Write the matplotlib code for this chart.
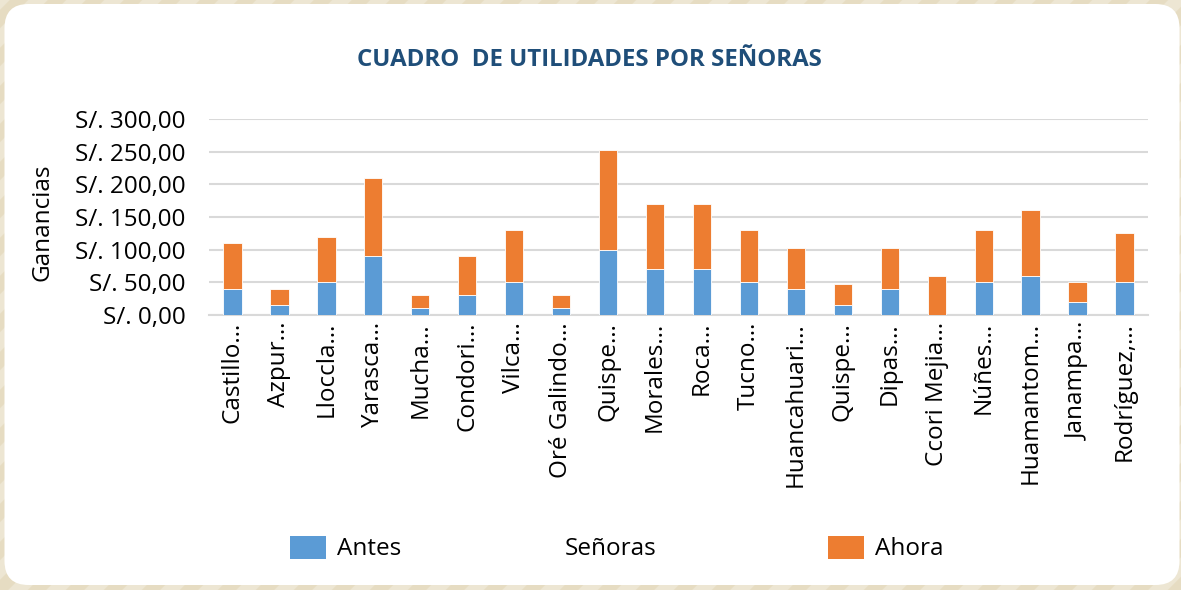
import matplotlib
matplotlib.use("Agg")
import matplotlib.pyplot as plt
from matplotlib.patches import FancyBboxPatch, Patch
from matplotlib.ticker import FuncFormatter
import numpy as np

# ---- data ----
senoras = ["Castillo…", "Azpur…", "Lloccla…", "Yarasca…", "Mucha…", "Condori…",
           "Vilca…", "Oré Galindo…", "Quispe…", "Morales…", "Roca…", "Tucno…",
           "Huancahuari…", "Quispe…", "Dipas…", "Ccori Mejia…", "Núñes…",
           "Huamantom…", "Janampa…", "Rodríguez,…"]
antes = [40, 15, 50, 90, 10, 30, 50, 10, 100, 70, 70, 50, 40, 15, 40, 0, 50, 60, 20, 50]
ahora = [70, 25, 70, 120, 20, 60, 80, 20, 152, 100, 100, 80, 62, 32, 62, 60, 80, 100, 30, 75]
y_ticks = [0, 50, 100, 150, 200, 250, 300]

title = "CUADRO  DE UTILIDADES POR SEÑORAS"
c_antes = "#5B9BD5"
c_ahora = "#ED7D31"
c_title = "#1F4E79"

plt.rcParams["font.family"] = ["Open Sans", "DejaVu Sans"]

W, H = 1181, 590
fig = plt.figure(figsize=(W / 100, H / 100), dpi=100)
fig.patch.set_facecolor("#E6DCC2")

# diagonal stripes in background border
for k in np.arange(-H, W + H, 38):
    fig.add_artist(plt.Line2D([k / W, (k + H) / W], [0, 1], transform=fig.transFigure,
                              color="#EDE6D3", lw=10, zorder=0))

panel = FancyBboxPatch((4.5 / 100, 5 / 100), (1179.5 - 4.5) / 100, (586 - 5) / 100,
                       boxstyle="round,pad=0,rounding_size=0.24",
                       transform=fig.dpi_scale_trans, facecolor="white",
                       edgecolor="none", zorder=1)
fig.add_artist(panel)

left, right, top, bottom = 209, 1148, 119, 315
ax = fig.add_axes([left / W, 1 - bottom / H, (right - left) / W, (bottom - top) / H])
ax.set_facecolor("none")
ax.set_zorder(2)

fs = 17.5
x = np.arange(len(senoras))
bw = 0.39
ax.bar(x, antes, bw, color=c_antes, edgecolor="white", linewidth=0.6, zorder=3, label="Antes")
ax.bar(x, ahora, bw, bottom=antes, color=c_ahora, edgecolor="white", linewidth=0.6,
       zorder=3, label="Ahora")

ax.set_xlim(-0.5, len(senoras) - 0.5)
ax.set_ylim(0, 300)
ax.set_yticks(y_ticks)
ax.yaxis.set_major_formatter(FuncFormatter(lambda v, p: "S/. " + f"{v:.2f}".replace(".", ",")))
ax.grid(axis="y", color="#D9D9D9", lw=1.5, zorder=0)
ax.set_axisbelow(True)
for s in ["left", "right", "top"]:
    ax.spines[s].set_visible(False)
ax.spines["bottom"].set_color("#D9D9D9")
ax.spines["bottom"].set_linewidth(1.5)

ax.set_xticks(x)
ax.set_xticklabels(senoras, rotation=90, ha="center", va="top")
ax.tick_params(axis="x", length=0, pad=5, labelsize=fs, colors="#000000")
ax.tick_params(axis="y", length=0, pad=17, labelsize=fs, colors="#000000")

ax.set_ylabel("Ganancias", fontsize=fs)
ax.yaxis.set_label_coords((55 - left) / (right - left), (bottom - 222) / (bottom - top))

fig.text(589 / W, 1 - 66 / H, title, ha="center", va="baseline", fontsize=17.3,
         fontweight="bold", color=c_title, zorder=5)

# legend entries
ly = 1 - 548.5 / H
entries = [
    (290, Patch(facecolor=c_antes, edgecolor="none"), "Antes"),
    (517, Patch(facecolor="none", edgecolor="none"), "Señoras"),
    (828, Patch(facecolor=c_ahora, edgecolor="none"), "Ahora"),
]
for xpos, h, lab in entries:
    lg = fig.legend([h], [lab], loc="center left", bbox_to_anchor=(xpos / W, ly),
                    bbox_transform=fig.transFigure, frameon=False, fontsize=fs,
                    borderpad=0, borderaxespad=0, handlelength=1.5, handleheight=1.1,
                    handletextpad=0.45)
    lg.set_zorder(5)

fig.savefig("out.png", dpi=100, facecolor=fig.get_facecolor())
